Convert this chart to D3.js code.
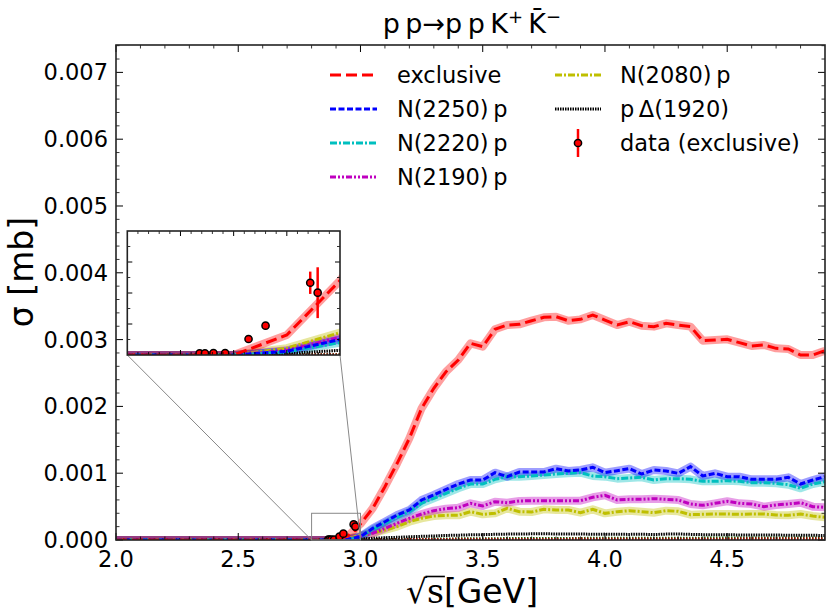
<!DOCTYPE html>
<html><head><meta charset="utf-8">
<script src="https://cdn.jsdelivr.net/npm/d3@7"></script>
<style>body{margin:0;background:#fff} svg{display:block} text{font-family:"DejaVu Sans",sans-serif;fill:#000}</style>
</head><body><svg id="c" width="830" height="615"></svg>
<script>
// ---------- data ----------
const sqrtS = [2.0, 2.85, 2.9, 2.95,
  3.0, 3.05, 3.1, 3.15, 3.2, 3.25, 3.3, 3.35, 3.4, 3.45,
  3.5, 3.55, 3.6, 3.65, 3.7, 3.75, 3.8, 3.85, 3.9, 3.95,
  4.0, 4.05, 4.1, 4.15, 4.2, 4.25, 4.3, 4.35, 4.4, 4.45,
  4.5, 4.55, 4.6, 4.65, 4.7, 4.75, 4.8, 4.85, 4.9];
const exclusive = [0, 0, 0, 0.0000645,
  0.00024, 0.000474, 0.000798, 0.001148, 0.001522, 0.001971, 0.002271, 0.00252, 0.002695, 0.002944,
  0.002894, 0.003154, 0.003218, 0.003228, 0.003283, 0.003333, 0.003343, 0.003283, 0.003303, 0.003368,
  0.003293, 0.003218, 0.003268, 0.003208, 0.003194, 0.003244, 0.003218, 0.003194, 0.002984, 0.002994,
  0.003004, 0.002954, 0.002904, 0.002919, 0.002869, 0.002859, 0.002769, 0.002769, 0.002834];
const n2250 = [0, 0, 0, 0.000012,
  0.00005, 0.000175, 0.000274, 0.000374, 0.000449, 0.000599, 0.000674, 0.000759, 0.000838, 0.000898,
  0.000898, 0.001008, 0.000948, 0.001018, 0.001018, 0.001018, 0.001068, 0.001033, 0.001048, 0.001088,
  0.001008, 0.001038, 0.001068, 0.000988, 0.001048, 0.001033, 0.000998, 0.001098, 0.000958, 0.000998,
  0.000948, 0.000948, 0.000908, 0.000908, 0.000908, 0.000938, 0.000838, 0.000898, 0.000948];
const n2220 = [0, 0, 0, 0.00001,
  0.00004, 0.00016, 0.00025, 0.00034, 0.000424, 0.000549, 0.000624, 0.000699, 0.000774, 0.000838,
  0.000838, 0.000908, 0.000948, 0.000948, 0.000958, 0.000973, 0.000988, 0.000998, 0.001008, 0.000958,
  0.000948, 0.000918, 0.000928, 0.000938, 0.000898, 0.000918, 0.000918, 0.000908, 0.000878, 0.000878,
  0.000888, 0.000878, 0.000858, 0.000858, 0.000848, 0.000828, 0.000774, 0.000838, 0.000873];
const n2190 = [0, 0, 0, 0.000015,
  0.000057, 0.0001, 0.000175, 0.00025, 0.000325, 0.000389, 0.000439, 0.000469, 0.000484, 0.000549,
  0.000509, 0.000574, 0.000559, 0.000584, 0.000589, 0.000589, 0.000589, 0.000589, 0.000589, 0.000639,
  0.000669, 0.000599, 0.000609, 0.000609, 0.000619, 0.000609, 0.000599, 0.000539, 0.000519, 0.000549,
  0.000579, 0.000549, 0.000539, 0.000499, 0.000524, 0.000539, 0.000559, 0.000499, 0.000489];
const n2080 = [0, 0, 0, 0.000022,
  0.000072, 0.0001, 0.00015, 0.0002, 0.000274, 0.000325, 0.000359, 0.000369, 0.000369, 0.000424,
  0.000384, 0.000399, 0.000474, 0.000424, 0.000419, 0.000459, 0.000449, 0.000449, 0.000409, 0.000459,
  0.000399, 0.000424, 0.000439, 0.000424, 0.000409, 0.000439, 0.000429, 0.000379, 0.000384, 0.000389,
  0.000389, 0.000384, 0.000389, 0.000389, 0.000374, 0.000369, 0.000389, 0.000359, 0.000339];
const pDelta1920 = [0, 0, 0, 0.000005,
  0.000015, 0.000025, 0.000035, 0.00004, 0.000048, 0.000055, 0.00006, 0.000068, 0.000072, 0.000078,
  0.00008, 0.000085, 0.000088, 0.00009, 0.000092, 0.000094, 0.00009, 0.000088, 0.00009, 0.000086,
  0.000088, 0.000085, 0.000084, 0.000086, 0.000082, 0.000088, 0.00009, 0.000084, 0.00008, 0.000078,
  0.000078, 0.000076, 0.000075, 0.000074, 0.000074, 0.000072, 0.00007, 0.00007, 0.000068];
const otherA = [0, 0, 0, 0,
  0.000001, 0.000003, 0.000006, 0.000008, 0.00001, 0.000012, 0.000014, 0.000016, 0.000017, 0.000018,
  0.000019, 0.00002, 0.000021, 0.000022, 0.000022, 0.000023, 0.000023, 0.000024, 0.000024, 0.000025,
  0.000025, 0.000026, 0.000026, 0.000027, 0.000027, 0.000027, 0.000028, 0.000028, 0.000028, 0.000029,
  0.000029, 0.000029, 0.00003, 0.00003, 0.00003, 0.00003, 0.000031, 0.000031, 0.000031];
const otherB = [0, 0, 0, 0,
  0.000001, 0.000002, 0.000004, 0.000005, 0.000006, 0.000007, 0.000008, 0.000009, 0.00001, 0.00001,
  0.000011, 0.000011, 0.000012, 0.000012, 0.000012, 0.000013, 0.000013, 0.000013, 0.000014, 0.000014,
  0.000014, 0.000014, 0.000015, 0.000015, 0.000015, 0.000015, 0.000016, 0.000016, 0.000016, 0.000016,
  0.000016, 0.000017, 0.000017, 0.000017, 0.000017, 0.000017, 0.000018, 0.000018, 0.000018];

const dataX   = [2.868, 2.873, 2.881, 2.892, 2.914, 2.930, 2.972, 2.979];
const dataY   = [0.000005, 0.000005, 0.000006, 0.000006, 0.0000516, 0.0000946, 0.000233, 0.000201];
const dataErr = [0.000001, 0.000001, 0.000001, 0.000001, 0.000003, 0.000005, 0.000036, 0.000082];

const xTicks = [2.0, 2.5, 3.0, 3.5, 4.0, 4.5];
const yTicks = [0.000, 0.001, 0.002, 0.003, 0.004, 0.005, 0.006, 0.007];
const yTickLabels = ["0.000","0.001","0.002","0.003","0.004","0.005","0.006","0.007"];

const series = [
  {name:"otherA", label:null, values:otherA, color:"#008000", dash:"1.5,1.5", band:false},
  {name:"otherB", label:null, values:otherB, color:"#a00000", dash:"1.5,1.5", band:false},
  {name:"pDelta1920", label:"p\u2009\u0394(1920)", values:pDelta1920, color:"#000000", dash:"1.5,1", band:false},
  {name:"n2080", label:"N(2080)\u2009p", values:n2080, color:"#bfbf00", dash:"7,2,2,2", band:true},
  {name:"n2190", label:"N(2190)\u2009p", values:n2190, color:"#bf00bf", dash:"6,2,2,2,2,2", band:true},
  {name:"n2220", label:"N(2220)\u2009p", values:n2220, color:"#00bfbf", dash:"7,2,2,2", band:true},
  {name:"n2250", label:"N(2250)\u2009p", values:n2250, color:"#0000ff", dash:"6,2.5", band:true},
  {name:"exclusive", label:"exclusive", values:exclusive, color:"#ff0000", dash:"11,5", band:true}
];

// ---------- layout ----------
const svg = d3.select('#c');
svg.append('rect').attr('width',830).attr('height',615).attr('fill','#fff');
const x = d3.scaleLinear().domain([2.0, 4.9]).range([116, 825]);
const y = d3.scaleLinear().domain([0, 0.00741]).range([540, 45]);

function drawSeries(g, xs, ys, clipId) {
  const gg = g.append('g').attr('clip-path', `url(#${clipId})`);
  const line = d3.line().x((d,i)=>xs(sqrtS[i])).y(d=>ys(d));
  series.forEach(s => {
    if (s.band) gg.append('path').datum(s.values).attr('d', line)
      .attr('fill','none').attr('stroke', s.color).attr('stroke-opacity',0.38)
      .attr('stroke-width',8).attr('stroke-linejoin','round');
  });
  series.forEach(s => {
    gg.append('path').datum(s.values).attr('d', line)
      .attr('fill','none').attr('stroke', s.color).attr('stroke-width', 3)
      .attr('stroke-dasharray', s.dash);
  });
  const pts = dataX.map((v,i)=>({x:v, y:dataY[i], e:dataErr[i]}));
  gg.selectAll(null).data(pts).enter().append('line')
    .attr('x1',d=>xs(d.x)).attr('x2',d=>xs(d.x))
    .attr('y1',d=>ys(d.y-d.e)).attr('y2',d=>ys(d.y+d.e))
    .attr('stroke','#ff0000').attr('stroke-width',2.5);
  gg.selectAll(null).data(pts).enter().append('circle')
    .attr('cx',d=>xs(d.x)).attr('cy',d=>ys(d.y)).attr('r',3.6)
    .attr('fill','#ff0000').attr('stroke','#000').attr('stroke-width',1.5);
}

function frameTicks(g, xs, ys, xMaj, xMin, yMaj, yMin, majLen, minLen) {
  const [x0,x1] = xs.range(), [y0,y1] = ys.range();
  const tg = g.append('g').attr('stroke','#000').attr('stroke-width',1);
  xMaj.forEach(v=>{ const px = xs(v);
    tg.append('line').attr('x1',px).attr('x2',px).attr('y1',y0).attr('y2',y0-majLen);
    tg.append('line').attr('x1',px).attr('x2',px).attr('y1',y1).attr('y2',y1+majLen); });
  xMin.forEach(v=>{ const px = xs(v);
    tg.append('line').attr('x1',px).attr('x2',px).attr('y1',y0).attr('y2',y0-minLen).attr('stroke-width',0.8);
    tg.append('line').attr('x1',px).attr('x2',px).attr('y1',y1).attr('y2',y1+minLen).attr('stroke-width',0.8); });
  yMaj.forEach(v=>{ const py = ys(v);
    tg.append('line').attr('x1',x0).attr('x2',x0+majLen).attr('y1',py).attr('y2',py);
    tg.append('line').attr('x1',x1).attr('x2',x1-majLen).attr('y1',py).attr('y2',py); });
  yMin.forEach(v=>{ const py = ys(v);
    tg.append('line').attr('x1',x0).attr('x2',x0+minLen).attr('y1',py).attr('y2',py).attr('stroke-width',0.8);
    tg.append('line').attr('x1',x1).attr('x2',x1-minLen).attr('y1',py).attr('y2',py).attr('stroke-width',0.8); });
  g.append('rect').attr('x',x0).attr('y',y1).attr('width',x1-x0).attr('height',y0-y1)
    .attr('fill','none').attr('stroke','#222').attr('stroke-width',1.6);
}

const defs = svg.append('defs');
defs.append('clipPath').attr('id','clipMain').append('rect')
  .attr('x',116).attr('y',45).attr('width',709).attr('height',495);

const main = svg.append('g');
drawSeries(main, x, y, 'clipMain');

const xMinor = d3.range(21,49).map(i=>i/10).filter(v=>!xTicks.some(t=>Math.abs(t-v)<1e-9));
const yMinor = d3.range(1,38).map(i=>i*0.0002).filter(v=>!yTicks.some(t=>Math.abs(t-v)<1e-9));
frameTicks(main, x, y, xTicks, xMinor, yTicks, yMinor, 7, 3.5);

main.selectAll(null).data(xTicks).enter().append('text')
  .attr('x',d=>x(d)).attr('y',567).attr('text-anchor','middle')
  .attr('font-size',22.5).text(d=>d.toFixed(1));
main.selectAll(null).data(yTicks).enter().append('text')
  .attr('x',108).attr('y',d=>y(d)).attr('dy','0.36em').attr('text-anchor','end')
  .attr('font-size',22.5).text((d,i)=>yTickLabels[i]);

// axis labels
svg.append('text').attr('transform','translate(33,272) rotate(-90)')
  .attr('text-anchor','middle').attr('font-size',33).text('\u03c3 [mb]');
const xl = svg.append('text').attr('x',472).attr('y',603).attr('text-anchor','middle').attr('font-size',33);
xl.append('tspan').attr('font-family','DejaVu Serif').text('\u221as');
xl.append('tspan').text('[GeV]');
// overline of the radical over "s"
{
  const node = xl.node();
  const a = node.getEndPositionOfChar(0).x, b = node.getEndPositionOfChar(1).x;
  svg.append('line').attr('x1',a-1.5).attr('x2',b+1).attr('y1',576.5).attr('y2',576.5)
    .attr('stroke','#000').attr('stroke-width',1.6);
}

// title
const tt = svg.append('text').attr('x',472).attr('y',33).attr('text-anchor','middle').attr('font-size',27);
tt.append('tspan').text('p\u2009p\u2192p\u2009p\u2009K');
tt.append('tspan').attr('font-size',18).attr('dy',-10).text('+');
tt.append('tspan').attr('dy',10).text('\u2009K\u0304');
tt.append('tspan').attr('font-size',18).attr('dy',-10).text('\u2212');

// zoom box + connectors
const ix = d3.scaleLinear().domain([2.8, 3.0]).range([127.3, 340]);
const iy = d3.scaleLinear().domain([0, 0.0004]).range([355, 231]);
const cg = svg.append('g').attr('stroke','#888').attr('stroke-width',1).attr('fill','none');
cg.append('rect').attr('x',x(2.8)).attr('y',y(0.0004)).attr('width',x(3.0)-x(2.8)).attr('height',y(0)-y(0.0004));
cg.append('line').attr('x1',ix(2.8)).attr('y1',iy(0)).attr('x2',x(2.8)).attr('y2',y(0));
cg.append('line').attr('x1',ix(3.0)).attr('y1',iy(0)).attr('x2',x(3.0)).attr('y2',y(0));

// inset
defs.append('clipPath').attr('id','clipInset').append('rect')
  .attr('x',127.3).attr('y',231).attr('width',340-127.3).attr('height',124);
const inset = svg.append('g');
inset.append('rect').attr('x',127.3).attr('y',231).attr('width',340-127.3).attr('height',124).attr('fill','#fff');
drawSeries(inset, ix, iy, 'clipInset');
const ixMaj = [2.85, 2.9, 2.95];
const ixMin = d3.range(281,300).map(i=>i/100).filter(v=>!ixMaj.some(t=>Math.abs(t-v)<1e-9));
const iyMaj = [0.0001, 0.0002, 0.0003];
const iyMin = [0.00005, 0.00015, 0.00025, 0.00035];
frameTicks(inset, ix, iy, ixMaj, ixMin, iyMaj, iyMin, 5, 3);

// legend
const legendItems = [
  {s:'exclusive', col:0, row:0},
  {s:'n2250', col:0, row:1},
  {s:'n2220', col:0, row:2},
  {s:'n2190', col:0, row:3},
  {s:'n2080', col:1, row:0},
  {s:'pDelta1920', col:1, row:1},
  {s:'data', col:1, row:2}
];
const colX = [[330,377,397],[555,601,620]];
const lg = svg.append('g');
legendItems.forEach(it=>{
  const ly = 75 + it.row*34;
  const [a,b,tx] = colX[it.col];
  if (it.s === 'data') {
    const cx = (a+b)/2;
    lg.append('line').attr('x1',cx).attr('x2',cx).attr('y1',ly-14).attr('y2',ly+14)
      .attr('stroke','#ff0000').attr('stroke-width',2.5);
    lg.append('circle').attr('cx',cx).attr('cy',ly).attr('r',3.6)
      .attr('fill','#ff0000').attr('stroke','#000').attr('stroke-width',1.5);
    lg.append('text').attr('x',tx).attr('y',ly).attr('dy','0.36em').attr('font-size',22.5).text('data (exclusive)');
  } else {
    const s = series.find(d=>d.name===it.s);
    lg.append('line').attr('x1',a).attr('x2',b).attr('y1',ly).attr('y2',ly)
      .attr('stroke',s.color).attr('stroke-width',3).attr('stroke-dasharray',s.dash);
    lg.append('text').attr('x',tx).attr('y',ly).attr('dy','0.36em').attr('font-size',22.5).text(s.label);
  }
});
</script></body></html>
